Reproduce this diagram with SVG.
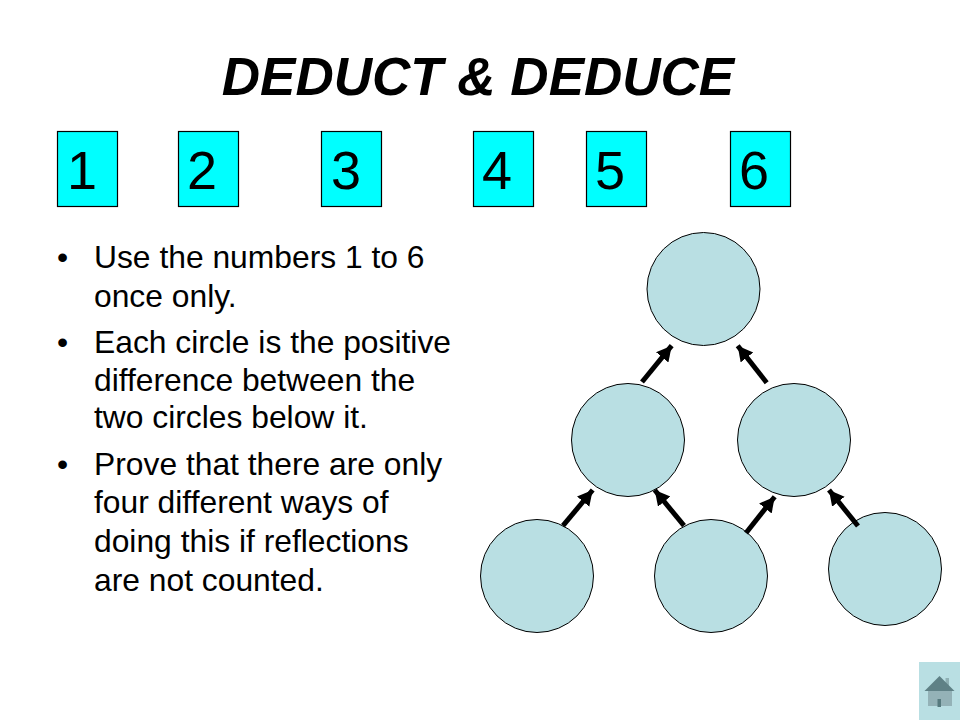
<svg xmlns="http://www.w3.org/2000/svg" width="960" height="720" viewBox="0 0 960 720">
<style>
text{font-family:"Liberation Sans",Arial,sans-serif;fill:#000}
.title{font-size:53px;font-weight:bold;font-style:italic}
.num{font-size:54px;text-anchor:middle}
.box{fill:#00ffff;stroke:#000;stroke-width:1.2}
.body{font-size:31.800px}
.c{fill:#b9dfe3;stroke:#000;stroke-width:1}
.a{stroke:#000;stroke-width:5;fill:none;marker-end:url(#ah)}
</style>
<defs>
<marker id="ah" markerUnits="userSpaceOnUse" markerWidth="18" markerHeight="18" refX="15" refY="8" orient="auto">
<path d="M0 0L15 8L0 16Z" fill="#000"/>
</marker>
</defs>
<rect width="960" height="720" fill="#fff"/>
<text class="title" x="478" y="95" text-anchor="middle">DEDUCT &amp; DEDUCE</text>
<g id="num1"><rect class="box" x="57.500" y="131.500" width="60" height="75"/><text class="num" x="82" y="189">1</text></g>
<g id="num2"><rect class="box" x="178.500" y="131.500" width="60" height="75"/><text class="num" x="202" y="189">2</text></g>
<g id="num3"><rect class="box" x="321.500" y="131.500" width="60" height="75"/><text class="num" x="346" y="189">3</text></g>
<g id="num4"><rect class="box" x="473.500" y="131.500" width="60" height="75"/><text class="num" x="497" y="189">4</text></g>
<g id="num5"><rect class="box" x="586.500" y="131.500" width="60" height="75"/><text class="num" x="610" y="189">5</text></g>
<g id="num6"><rect class="box" x="730.500" y="131.500" width="60" height="75"/><text class="num" x="754" y="189">6</text></g>
<g id="bullets">
<text class="body" x="57" y="268">•</text>
<text class="body" x="94" y="268">Use the numbers 1 to 6</text>
<text class="body" x="94" y="307">once only.</text>
<text class="body" x="57" y="353">•</text>
<text class="body" x="94" y="353">Each circle is the positive</text>
<text class="body" x="94" y="391">difference between the</text>
<text class="body" x="94" y="428">two circles below it.</text>
<text class="body" x="57" y="475">•</text>
<text class="body" x="94" y="475">Prove that there are only</text>
<text class="body" x="94" y="513">four different ways of</text>
<text class="body" x="94" y="552">doing this if reflections</text>
<text class="body" x="94" y="591">are not counted.</text>
</g>
<g id="circle-top"><circle class="c" cx="703.500" cy="289" r="56.500"/></g>
<g id="circle-mid-left"><circle class="c" cx="628" cy="440" r="56.500"/></g>
<g id="circle-mid-right"><circle class="c" cx="794" cy="440" r="56.500"/></g>
<g id="circle-bottom-left"><circle class="c" cx="537" cy="576" r="56.500"/></g>
<g id="circle-bottom-mid"><circle class="c" cx="711" cy="576" r="56.500"/></g>
<g id="circle-bottom-right"><circle class="c" cx="885" cy="569" r="56.500"/></g>
<g id="connectors">
<path class="a" d="M642 382L671.700 345.700"/>
<path class="a" d="M766.700 382.700L737.700 345.700"/>
<path class="a" d="M563 525.700L592.700 490"/>
<path class="a" d="M684 525.700L654.700 490"/>
<path class="a" d="M746 533L774.700 496.700"/>
<path class="a" d="M858 526L829 490"/>
</g>
<g id="home">
<rect x="919" y="662" width="41" height="58" fill="#b9dfe3"/>
<path d="M945.500 678h3.500v10h-3.500z" fill="#8fb0b4"/>
<path d="M928 690h24v16h-24z" fill="#94b2b7"/>
<path d="M924.500 691L939.500 676L954.500 691Z" fill="#5f8186"/>
<path d="M937.500 699h3.500v8h-3.500z" fill="#567a7e"/>
</g>
</svg>
